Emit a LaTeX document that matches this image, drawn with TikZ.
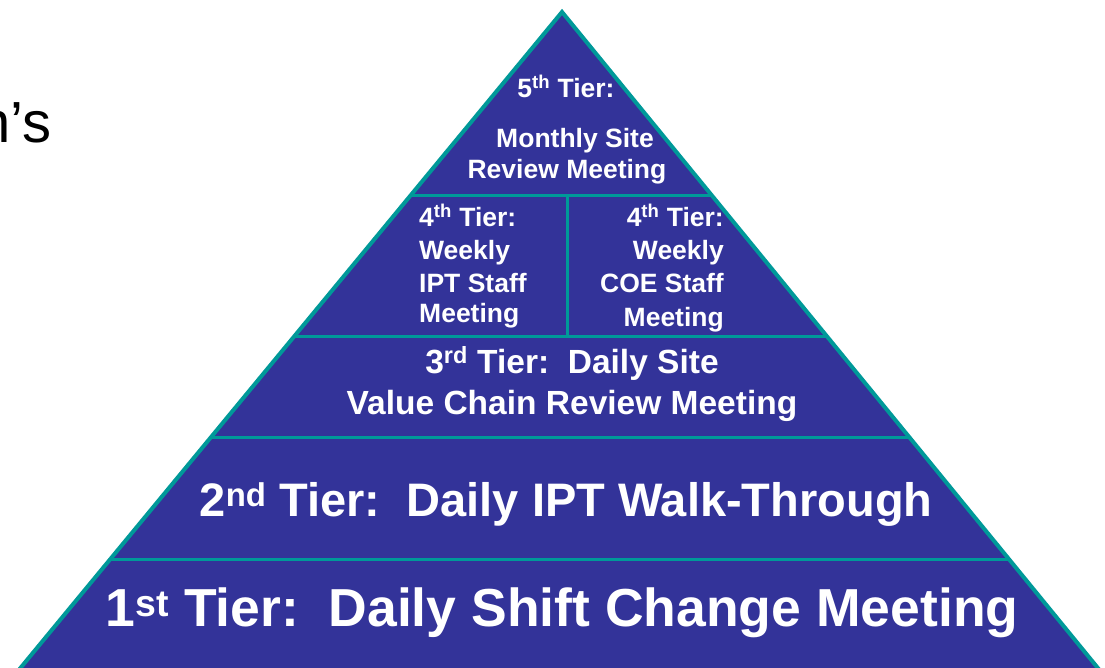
\documentclass[tikz,border=0pt]{standalone}
\usepackage{fontspec}
\setmainfont{Liberation Sans}
\usetikzlibrary{calc}
\definecolor{pyrblue}{RGB}{51,51,153}
\definecolor{pyrteal}{RGB}{0,153,153}
\begin{document}
\begin{tikzpicture}[x=1pt,y=-1pt,
  tier/.style={text=white,font=\bfseries,inner sep=0pt,anchor=base},
  divider/.style={draw=pyrteal,line width=3pt},
  outline/.style={draw=pyrteal,line width=4pt,line join=miter}]
\useasboundingbox (0,0) rectangle (1105,668);
\clip (0,0) rectangle (1105,668);
\coordinate (apex) at (562,12);
\coordinate (bl) at (-6,700);
\coordinate (br) at (1124,700);
\fill[pyrblue] (apex) -- (bl) -- (br) -- cycle;
\begin{scope}
  \clip (apex) -- (bl) -- (br) -- cycle;
  \coordinate (d1l) at (0,196);  \coordinate (d1r) at (1105,196);
  \coordinate (d2l) at (0,336);  \coordinate (d2r) at (1105,336);
  \coordinate (d3l) at (0,437);  \coordinate (d3r) at (1105,437);
  \coordinate (d4l) at (0,559);  \coordinate (d4r) at (1105,559);
  \coordinate (vt) at (567,196); \coordinate (vb) at (567,336);
  \path[divider] (d1l) -- (d1r);
  \path[divider] (d2l) -- (d2r);
  \path[divider] (d3l) -- (d3r);
  \path[divider] (d4l) -- (d4r);
  \path[divider] (vt) -- (vb);
\end{scope}
\path[outline] (bl) -- (apex) -- (br);

% left cut-off text (cut off in the reference too)
\node[font=\fontsize{58}{60}\selectfont,inner sep=0pt,anchor=base east] (side) at (52,143) {n’s};

% 5th tier
\node[tier,font=\bfseries\fontsize{26.5}{30}\selectfont] (t5a) at (566,98) {5\textsuperscript{th} Tier:};
\node[tier,font=\bfseries\fontsize{26.5}{30}\selectfont] (t5b) at (575,148) {Monthly Site};
\node[tier,font=\bfseries\fontsize{26.5}{30}\selectfont] (t5c) at (567,179) {Review Meeting};

% 4th tier left
\begin{scope}[every node/.style={tier,anchor=base west,font=\bfseries\fontsize{26.5}{30}\selectfont}]
\node (t4la) at (419,227) {4\textsuperscript{th} Tier:};
\node (t4lb) at (419,260) {Weekly};
\node (t4lc) at (419,292) {IPT Staff};
\node (t4ld) at (419,322) {Meeting};
\end{scope}
% 4th tier right
\begin{scope}[every node/.style={tier,anchor=base east,font=\bfseries\fontsize{26.5}{30}\selectfont}]
\node (t4ra) at (724,227) {4\textsuperscript{th} Tier:};
\node (t4rb) at (724,260) {Weekly};
\node (t4rc) at (724,292) {COE Staff};
\node (t4rd) at (724,326) {Meeting};
\end{scope}

% 3rd tier
\node[tier,font=\bfseries\fontsize{33.5}{38}\selectfont] (t3a) at (572,373) {3\textsuperscript{rd} Tier:\ \ Daily Site};
\node[tier,font=\bfseries\fontsize{33.5}{38}\selectfont] (t3b) at (572,414) {Value Chain Review Meeting};

% 2nd tier
\node[tier,font=\bfseries\fontsize{47}{52}\selectfont] (t2) at (566,516) {2\textsuperscript{nd} Tier:\ \ Daily IPT Walk-Through};

% 1st tier
\node[tier,font=\bfseries\fontsize{53.5}{58}\selectfont] (t1) at (562,626) {1\textsuperscript{st} Tier:\ \ Daily Shift Change Meeting};
\end{tikzpicture}
\end{document}
